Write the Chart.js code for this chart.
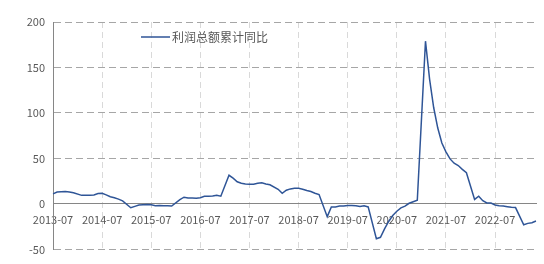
<!DOCTYPE html>
<html>
<head>
<meta charset="utf-8">
<script src="https://cdn.jsdelivr.net/npm/chart.js@4/dist/chart.umd.min.js"></script>
<style>
  html, body { margin: 0; padding: 0; background: #fff; }
  #wrap { width: 544px; height: 264px; }
</style>
</head>
<body>
<div id="wrap"><canvas id="_canvasc" width="544" height="264"></canvas></div>
<script>
    // months 2013-07 .. 2023-05 (January not published -> null)
    var startYear = 2013, startMonth = 7, monthCount = 119;
    var months = [];
    for (var i = 0; i < monthCount; i++) {
        var m = startMonth - 1 + i;
        var y = startYear + Math.floor(m / 12);
        var mm = (m % 12) + 1;
        months.push(y + "-" + (mm < 10 ? "0" + mm : mm));
    }

    var seriesName = "利润总额累计同比";
    var profitYoY = [
        11.1, 13.1, 13.5, 13.7, 13.2, 12.2,
        null, 9.4, 9.6, 9.6, 9.8, 11.4, 11.6, 10.0, 7.9, 6.7, 5.3, 3.3,
        null, -4.2, -2.7, -1.3, -0.8, -0.7, -1.0, -1.9, -1.7, -2.0, -1.9, -2.3,
        null, 4.8, 7.4, 6.5, 6.4, 6.2, 6.9, 8.4, 8.4, 8.6, 9.4, 8.5,
        null, 31.5, 28.3, 24.4, 22.7, 22.0, 21.6, 21.6, 22.8, 23.3, 21.9, 21.0,
        null, 16.1, 11.6, 15.0, 16.5, 17.2, 17.1, 16.2, 14.7, 13.6, 11.8, 10.3,
        null, -14.0, -3.3, -3.4, -2.3, -2.4, -1.7, -1.7, -2.1, -2.9, -2.1, -3.3,
        null, -38.3, -36.7, -27.4, -19.3, -12.8, -8.1, -4.4, -2.4, 0.7, 2.4, 4.1,
        null, 178.9, 137.3, 106.0, 83.4, 66.9, 57.3, 49.5, 44.7, 42.2, 38.0, 34.3,
        null, 5.0, 8.5, 3.5, 1.0, 1.0, -1.1, -2.1, -2.3, -3.0, -3.6, -4.0,
        null, -22.9, -21.4, -20.6, -18.8
    ];
    var yTicks = [-50, 0, 50, 100, 150, 200];

    var lineColor = "#2f5597";
    var textColor = "#595959";
    var fontFamily = "'Noto Sans CJK SC', 'Noto Sans', sans-serif";

    // legend drawn inside the plot, like the original
    var insideLegend = {
        id: 'insideLegend',
        afterDraw: function (chart) {
            var ctx = chart.ctx;
            ctx.save();
            ctx.strokeStyle = lineColor;
            ctx.lineWidth = 1.5;
            ctx.beginPath();
            ctx.moveTo(141, 37);
            ctx.lineTo(170, 37);
            ctx.stroke();
            ctx.fillStyle = textColor;
            ctx.font = "12px " + fontFamily;
            ctx.textBaseline = "middle";
            ctx.fillText(chart.data.datasets[0].label, 172, 37);
            ctx.restore();
        }
    };

    var config = {
        type: 'line',
        data: {
            labels: months,
            datasets: [{
                label: seriesName,
                data: profitYoY,
                borderColor: lineColor,
                borderWidth: 1.5,
                pointRadius: 0,
                tension: 0,
                spanGaps: true,
                fill: false
            }]
        },
        options: {
            responsive: false,
            animation: false,
            layout: { padding: { left: 0, right: 8, top: 22, bottom: 14 } },
            plugins: {
                legend: { display: false },
                tooltip: { enabled: false }
            },
            scales: {
                x: {
                    type: 'category',
                    position: { y: 0 },
                    offset: false,
                    grid: { color: '#d9d9d9', lineWidth: 1, drawTicks: false },
                    border: { display: true, color: '#868686', width: 1, dash: [6, 4] },
                    ticks: {
                        autoSkip: false,
                        maxRotation: 0,
                        padding: 9,
                        color: textColor,
                        font: { size: 11, family: fontFamily },
                        callback: function (val, i) {
                            var s = months[i];
                            return s.slice(5) === "07" ? s : null;
                        }
                    }
                },
                y: {
                    min: -50,
                    max: 200,
                    afterBuildTicks: function (scale) {
                        scale.ticks = yTicks.map(function (v) { return { value: v }; });
                    },
                    afterFit: function (scale) { scale.width = 53; },
                    grid: { color: '#a6a6a6', lineWidth: 1, drawTicks: false },
                    border: { display: true, color: '#868686', width: 1, dash: [7, 4] },
                    ticks: {
                        padding: 8,
                        color: textColor,
                        font: { size: 11, family: fontFamily }
                    }
                }
            }
        },
        plugins: [insideLegend]
    };

    window.myLine = new Chart(document.getElementById("_canvasc"), config);
</script>
</body>
</html>
